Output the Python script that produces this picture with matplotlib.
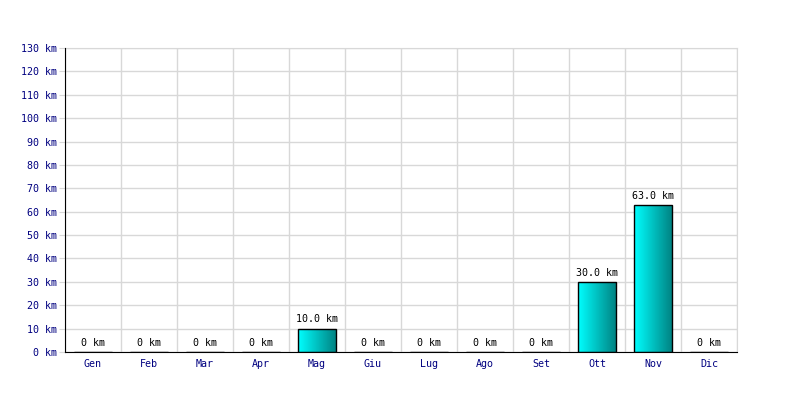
import matplotlib
matplotlib.use('Agg')
import matplotlib.pyplot as plt
import numpy as np

# Monthly distance (km)
months = ['Gen', 'Feb', 'Mar', 'Apr', 'Mag', 'Giu', 'Lug', 'Ago', 'Set', 'Ott', 'Nov', 'Dic']
km = [0, 0, 0, 0, 10.0, 0, 0, 0, 0, 30.0, 63.0, 0]
y_ticks = list(range(0, 131, 10))

plt.rcParams['font.family'] = ['DejaVu Sans Mono']
fs = 7.2

fig = plt.figure(figsize=(8, 4), dpi=100)
ax = fig.add_axes([0.08125, 0.12, 0.84, 0.76])

x = np.arange(len(months))
bars = ax.bar(x, km, width=0.68, color='none', edgecolor='black', linewidth=1, zorder=3)

# horizontal gradient fill, cyan -> teal
grad = np.linspace(0, 1, 256).reshape(1, -1)
cmap = matplotlib.colors.LinearSegmentedColormap.from_list('cy', ['#00ffff', '#008080'])
for b in bars:
    if b.get_height() <= 0:
        continue
    bx, by = b.get_x(), b.get_y()
    im = ax.imshow(grad, cmap=cmap, aspect='auto', zorder=2,
                   extent=[bx, bx + b.get_width(), by, by + b.get_height()])
    im.set_clip_path(b)

for xi, v in zip(x, km):
    label = f'{v:.1f} km' if v > 0 else '0 km'
    ax.annotate(label, (xi, v), xytext=(0, 3), textcoords='offset points',
                ha='center', va='bottom', fontsize=fs, color='black')

ax.set_xlim(-0.5, len(months) - 0.5)
ax.set_ylim(0, 130)
ax.set_yticks(y_ticks)
ax.set_yticklabels([f'{t} km' for t in y_ticks], color='#000080', fontsize=fs)
ax.set_xticks(x)
ax.set_xticklabels(months, color='#000080', fontsize=fs)
ax.set_xticks(np.arange(-0.5, len(months)), minor=True)
ax.tick_params(axis='x', which='both', length=0, pad=5)
ax.tick_params(axis='y', length=4, color='#d8d8d8', pad=2)

ax.grid(True, axis='y', color='#d8d8d8', linewidth=1, zorder=0)
ax.grid(True, axis='x', which='minor', color='#d8d8d8', linewidth=1, zorder=0)
ax.grid(False, axis='x', which='major')
ax.set_axisbelow(True)

for s in ['top', 'right']:
    ax.spines[s].set_color('#d8d8d8')
for s in ['left', 'bottom']:
    ax.spines[s].set_color('black')
    ax.spines[s].set_zorder(4)

fig.savefig('out.png', dpi=100, facecolor='white')
